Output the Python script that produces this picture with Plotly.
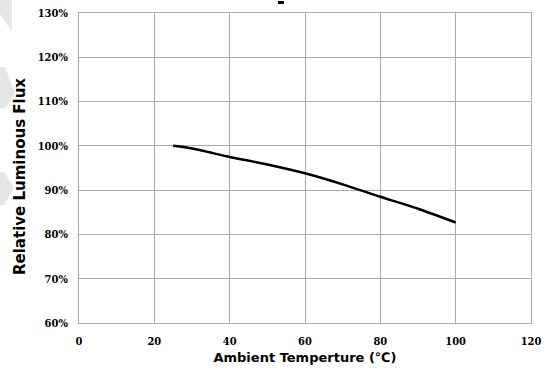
import plotly.graph_objects as go

temperature = [25, 30, 40, 50, 60, 70, 80, 90, 100]
relative_flux = [100.0, 99.4, 97.5, 95.8, 93.8, 91.3, 88.5, 85.8, 82.7]

x_ticks = [0, 20, 40, 60, 80, 100, 120]
y_ticks = [60, 70, 80, 90, 100, 110, 120, 130]
y_tick_labels = [f"{v}%" for v in y_ticks]

tick_font = dict(family="DejaVu Serif Condensed", size=11, color="black")
grid_color = "#ababab"

# plot-area geometry in page pixels
PL, PR, PT, PB = 79, 531, 13, 323


def px(x, y):
    return (x - PL) / (PR - PL), (PB - y) / (PB - PT)


def poly(points):
    pts = [px(x, y) for x, y in points]
    return "M " + " L ".join(f"{a:.4f},{b:.4f}" for a, b in pts) + " Z"


watermarks = [
    [(0, 0), (12, 0), (12, 32), (0, 14)],
    [(0, 67), (5, 67), (15, 92), (6, 108), (0, 108)],
    [(0, 172), (4, 172), (14, 188), (4, 205), (0, 205)],
]

shapes = [
    dict(type="path", path=poly(w), xref="paper", yref="paper",
         fillcolor="#e6e6e6", line=dict(width=0), layer="below")
    for w in watermarks
]
shapes.append(dict(type="path", path=poly([(278, 1), (284, 1), (284, 4), (278, 4)]),
                   xref="paper", yref="paper", fillcolor="black", line=dict(width=0)))

fig = go.Figure()
fig.add_trace(go.Scatter(
    x=temperature, y=relative_flux, mode="lines",
    line=dict(color="black", width=2.5, shape="spline", smoothing=0.6),
    showlegend=False, hoverinfo="skip",
))

fig.update_layout(
    width=548, height=378,
    margin=dict(l=PL, r=548 - PR, t=PT, b=378 - PB, autoexpand=False),
    paper_bgcolor="white", plot_bgcolor="white",
    shapes=shapes,
    xaxis=dict(
        range=[0, 120], tickvals=x_ticks, ticktext=[f"<b>{v}</b>" for v in x_ticks],
        showgrid=True, gridcolor=grid_color, gridwidth=1,
        showline=True, linecolor=grid_color, linewidth=1, mirror=True,
        zeroline=False, ticks="", ticklen=0, tickfont=tick_font,
        ticklabelstandoff=8, automargin=False,
        title=dict(text="<b>Ambient Temperture (℃)</b>",
                   font=dict(family="DejaVu Sans", size=13, color="black"), standoff=5),
        fixedrange=True,
    ),
    yaxis=dict(
        range=[60, 130], tickvals=y_ticks, ticktext=[f"<b>{t}</b>" for t in y_tick_labels],
        showgrid=True, gridcolor=grid_color, gridwidth=1,
        showline=True, linecolor=grid_color, linewidth=1, mirror=True,
        zeroline=False, ticks="", ticklen=0, tickfont=tick_font,
        ticklabelstandoff=8, automargin=False,
        fixedrange=True,
    ),
    annotations=[dict(
        text="<b>Relative Luminous Flux</b>", textangle=-90,
        x=px(20, 0)[0], y=px(0, 177)[1], xref="paper", yref="paper",
        xanchor="center", yanchor="middle", showarrow=False,
        font=dict(family="DejaVu Sans", size=15, color="black"),
    )],
)

fig.write_html(
    "out.html",
    config={"displayModeBar": False},
    post_script="document.body.style.margin='0px';document.body.style.padding='0px';",
)
